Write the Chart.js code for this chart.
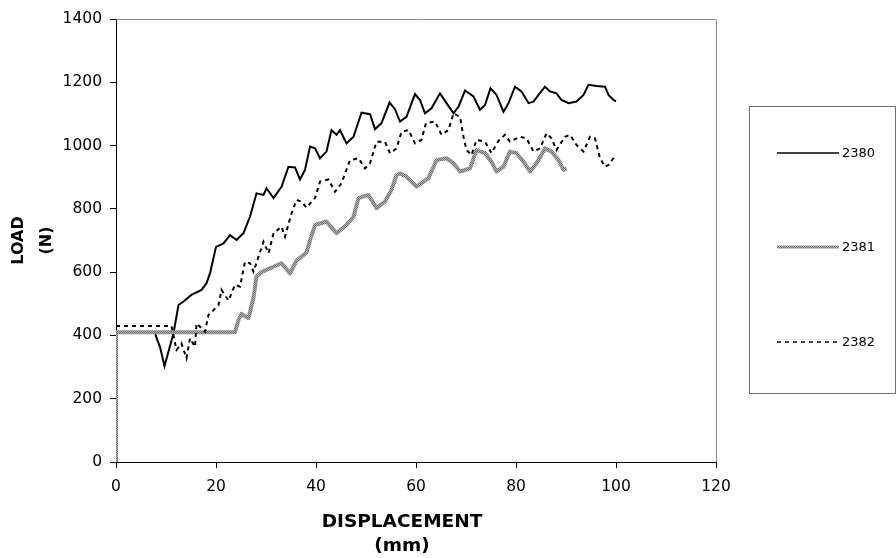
<!DOCTYPE html>
<html>
<head>
<meta charset="utf-8">
<script src="https://cdn.jsdelivr.net/npm/chart.js@4.4.1/dist/chart.umd.min.js"></script>
<style>
  html, body { margin: 0; padding: 0; background: #fff; }
  #wrap { width: 896px; height: 558px; }
</style>
</head>
<body>
<div id="wrap"><canvas id="c" width="896" height="558"></canvas></div>
<script>
// ---- data ----
const seriesNames = ['2380', '2381', '2382'];

const disp2380 = [
  0, 0, 7.8, 8.1, 8.8, 9.7, 10.5, 11.5, 12.5, 13.5,
  15.1, 17.1, 18.1, 18.8, 20.0, 21.5, 22.8, 24.1, 25.5, 26.8,
  28.1, 29.5, 30.1, 31.5, 33.1, 34.5, 35.8, 36.8, 37.8, 38.8,
  39.8, 40.8, 42.1, 43.1, 44.1, 44.8, 46.1, 47.5, 49.1, 50.8,
  51.8, 53.1, 54.7, 55.8, 56.8, 58.1, 59.8, 60.8, 61.8, 63.1,
  64.8, 66.1, 67.5, 68.5, 69.8, 71.5, 72.8, 73.8, 74.9, 76.1,
  77.5, 78.5, 79.8, 81.1, 82.5, 83.5, 84.5, 85.8, 86.8, 88.1,
  89.1, 90.5, 92.1, 93.5, 94.5, 96.1, 97.8, 98.5, 99.5, 100
];
const load2380 = [
  0, 410, 410, 392, 364, 303, 349, 407, 496, 507,
  528, 544, 565, 596, 680, 691, 717, 702, 723, 775,
  849, 844, 865, 834, 870, 933, 931, 893, 923, 997,
  991, 960, 981, 1049, 1034, 1049, 1007, 1028, 1104, 1099,
  1052, 1071, 1136, 1115, 1076, 1091, 1163, 1144, 1102, 1118,
  1165, 1134, 1102, 1123, 1174, 1155, 1113, 1128, 1181, 1160,
  1107, 1134, 1186, 1171, 1134, 1139, 1160, 1186, 1171, 1165,
  1144, 1134, 1139, 1160, 1192, 1188, 1186, 1160, 1144, 1140
];

const disp2381 = [
  0, 0, 23.8, 24.5, 25.1, 26.5, 27.5, 28.1, 29.1, 31.5,
  33.1, 34.8, 36.1, 38.1, 38.8, 39.8, 42.1, 44.1, 46.1, 47.5,
  48.5, 50.5, 52.1, 53.8, 55.1, 56.1, 56.8, 58.1, 60.1, 62.5,
  64.1, 66.1, 67.5, 68.8, 70.8, 72.1, 73.8, 75.1, 76.1, 77.5,
  78.8, 80.1, 81.5, 82.8, 84.1, 85.8, 87.1, 88.5, 89.5, 90.1
];
const load2381 = [
  0, 410, 410, 449, 468, 455, 520, 586, 600, 617,
  628, 596, 636, 662, 700, 749, 760, 723, 749, 775,
  834, 844, 802, 823, 860, 907, 912, 902, 870, 897,
  954, 960, 944, 918, 928, 986, 976, 949, 918, 933,
  981, 976, 949, 918, 944, 991, 981, 954, 923, 928
];

const disp2382 = [
  0, 11.1, 12.1, 13.1, 14.1, 14.8, 15.8, 16.1, 17.8,
  18.5, 19.5, 20.5, 21.1, 22.5, 23.8, 24.8, 25.8, 26.8, 27.5,
  28.5, 29.5, 30.5, 31.5, 33.1, 33.8, 35.1, 36.1, 37.1, 38.1,
  39.8, 40.8, 42.5, 43.8, 45.1, 46.8, 48.5, 49.8, 50.8, 52.1,
  53.8, 54.8, 56.1, 57.1, 58.5, 59.8, 61.1, 62.0, 63.8, 65.1,
  66.5, 67.5, 68.8, 69.5, 70.1, 71.1, 72.1, 73.8, 75.1, 76.5,
  77.8, 78.8, 80.8, 82.1, 83.5, 84.8, 86.1, 87.1, 88.1, 89.8,
  90.8, 92.1, 93.5, 94.8, 95.8, 96.8, 97.8, 98.5, 99.8
];
const load2382 = [
  430, 430, 354, 375, 328, 391, 364, 438, 412,
  465, 480, 496, 544, 510, 560, 554, 633, 628, 601,
  649, 696, 660, 723, 744, 712, 786, 828, 823, 804,
  834, 886, 893, 854, 881, 954, 960, 928, 944, 1012,
  1012, 976, 991, 1044, 1049, 1007, 1018, 1071, 1076, 1034,
  1049, 1102, 1091, 1028, 986, 970, 1018, 1012, 976, 1015,
  1034, 1012, 1028, 1023, 981, 991, 1039, 1023, 986, 1028,
  1034, 1002, 981, 1028, 1023, 960, 933, 939, 967
];

const xTicks = [0, 20, 40, 60, 80, 100, 120];
const yTicks = [0, 200, 400, 600, 800, 1000, 1200, 1400];
const xTitle = ['DISPLACEMENT', '(mm)'];
const yTitle = ['LOAD', '(N)'];

// ---- helpers ----
function pairs(xs, ys) { return xs.map((x, i) => ({ x: x, y: ys[i] })); }

const canvas = document.getElementById('c');
const ctx = canvas.getContext('2d');

// checkered grey pattern for series 2381
const pc = document.createElement('canvas');
pc.width = 2; pc.height = 2;
const pctx = pc.getContext('2d');
pctx.fillStyle = '#b4b4b4'; pctx.fillRect(0, 0, 2, 2);
pctx.fillStyle = '#6e6e6e'; pctx.fillRect(0, 0, 1, 1); pctx.fillRect(1, 1, 1, 1);
const grayPattern = ctx.createPattern(pc, 'repeat');

const FONT = "'DejaVu Sans', sans-serif";

// frame (top/right grey edges) plugin
const framePlugin = {
  id: 'frame',
  beforeDatasetsDraw(chart) {
    const a = chart.chartArea, c = chart.ctx;
    c.save();
    c.strokeStyle = '#8c8c8c';
    c.lineWidth = 1;
    c.beginPath();
    c.moveTo(a.left, a.top + 0.5);
    c.lineTo(a.right + 0.5, a.top + 0.5);
    c.lineTo(a.right + 0.5, a.bottom);
    c.stroke();
    c.restore();
  }
};

// x-axis title (centred slightly left of the plot centre, as in the reference)
const xTitlePlugin = {
  id: 'xTitle',
  afterDraw(chart) {
    const c = chart.ctx, a = chart.chartArea;
    const cx = (a.left + a.right) / 2 - 14;
    c.save();
    c.fillStyle = '#000';
    c.font = 'bold 18.5px ' + FONT;
    c.textAlign = 'center';
    c.textBaseline = 'middle';
    xTitle.forEach((t, i) => c.fillText(t, cx, a.bottom + 60 + i * 24));
    c.restore();
  }
};

// boxed legend on the right
const legendPlugin = {
  id: 'boxLegend',
  afterDraw(chart) {
    const c = chart.ctx;
    c.save();
    c.strokeStyle = '#707070';
    c.lineWidth = 1;
    c.strokeRect(749.5, 106.5, 146, 287);
    const ys = [153, 247, 342];
    chart.data.datasets.forEach((ds, i) => {
      const y = ys[i];
      c.save();
      c.strokeStyle = ds.borderColor;
      c.lineWidth = i === 1 ? 3 : 1.5;
      c.setLineDash(ds.borderDash || []);
      c.beginPath();
      c.moveTo(777, y);
      c.lineTo(839, y);
      c.stroke();
      c.restore();
      c.fillStyle = '#000';
      c.font = '13px ' + FONT;
      c.textBaseline = 'middle';
      c.textAlign = 'left';
      c.fillText(ds.label, 842, y + 1);
    });
    c.restore();
  }
};

new Chart(ctx, {
  type: 'scatter',
  data: {
    datasets: [
      {
        label: seriesNames[0],
        data: pairs(disp2380, load2380),
        showLine: true, pointRadius: 0, borderColor: '#000', borderWidth: 2,
        tension: 0, order: 3
      },
      {
        label: seriesNames[1],
        data: pairs(disp2381, load2381),
        showLine: true, pointRadius: 0, borderColor: grayPattern, borderWidth: 4,
        tension: 0, order: 2, borderJoinStyle: 'round'
      },
      {
        label: seriesNames[2],
        data: pairs(disp2382, load2382),
        showLine: true, pointRadius: 0, borderColor: '#000', borderWidth: 2,
        borderDash: [4, 4], tension: 0, order: 1
      }
    ]
  },
  options: {
    responsive: false,
    animation: false,
    devicePixelRatio: 1,
    layout: { padding: { left: 0, top: 19, right: 180, bottom: 0 } },
    plugins: { legend: { display: false }, tooltip: { enabled: false } },
    scales: {
      x: {
        type: 'linear', min: 0, max: 120,
        afterFit(s) { s.height = 96; },
        afterBuildTicks(s) { s.ticks = xTicks.map(v => ({ value: v })); },
        border: { color: '#000', width: 1 },
        grid: { display: true, drawOnChartArea: false, drawTicks: true, tickLength: 6, color: '#000' },
        ticks: { color: '#000', font: { family: FONT, size: 15.5 }, padding: 10, maxRotation: 0,
                 callback: v => String(v) },
        title: { display: false }
      },
      y: {
        type: 'linear', min: 0, max: 1400,
        afterFit(s) { s.width = 116; },
        afterBuildTicks(s) { s.ticks = yTicks.map(v => ({ value: v })); },
        border: { color: '#000', width: 1 },
        grid: { display: true, drawOnChartArea: false, drawTicks: true, tickLength: 6, color: '#000' },
        ticks: { color: '#000', font: { family: FONT, size: 15.5 }, padding: 8,
                 callback: v => String(v) },
        title: {
          display: true, text: yTitle, color: '#000',
          font: { family: FONT, size: 16, weight: 'bold', lineHeight: '28px' },
          padding: { top: 5, bottom: 0 }
        }
      }
    }
  },
  plugins: [framePlugin, xTitlePlugin, legendPlugin]
});
</script>
</body>
</html>
